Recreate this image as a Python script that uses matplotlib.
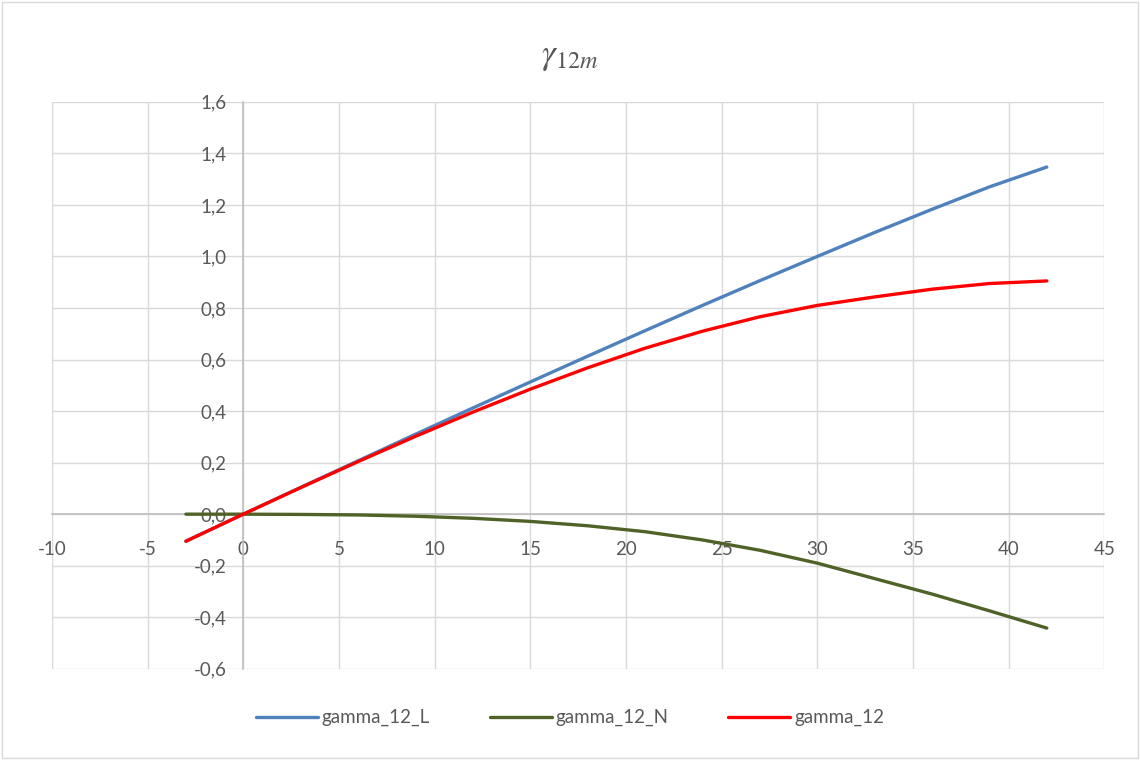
import matplotlib.pyplot as plt
import matplotlib.ticker as mticker
from matplotlib.patches import Rectangle

plt.rcParams['font.family'] = ['Lato', 'DejaVu Sans']
plt.rcParams['axes.unicode_minus'] = False
plt.rcParams['mathtext.fontset'] = 'stix'

# values
x = [-3, 0, 3, 6, 9, 12, 15, 18, 21, 24, 27, 30, 33, 36, 39, 42]
gamma_12_L = [-0.105, 0.0, 0.104, 0.207, 0.31, 0.412, 0.513, 0.613, 0.712,
              0.81, 0.906, 1.0, 1.093, 1.183, 1.27, 1.347]
gamma_12_N = [0.0, 0.0, -0.001, -0.003, -0.008, -0.016, -0.028, -0.045, -0.068,
              -0.1, -0.14, -0.19, -0.25, -0.31, -0.375, -0.442]
gamma_12 = [-0.105, 0.0, 0.103, 0.204, 0.302, 0.396, 0.485, 0.568, 0.644,
            0.71, 0.766, 0.81, 0.843, 0.873, 0.895, 0.905]

fig = plt.figure(figsize=(11.4, 7.6), dpi=100)
ax = fig.add_axes([0.0456, 0.120, 0.923, 0.746])

ax.plot(x, gamma_12_L, color="#4f81bd", lw=2.4, label="gamma_12_L", solid_capstyle="round")
ax.plot(x, gamma_12_N, color="#4f6228", lw=2.4, label="gamma_12_N", solid_capstyle="round")
ax.plot(x, gamma_12, color="#ff0000", lw=2.4, label="gamma_12", solid_capstyle="round")

ax.set_xlim(-10, 45)
ax.set_ylim(-0.6, 1.6)
ax.xaxis.set_major_locator(mticker.MultipleLocator(5))
ax.yaxis.set_major_locator(mticker.MultipleLocator(0.2))
ax.yaxis.set_major_formatter(mticker.FuncFormatter(lambda v, p: ("%.1f" % v).replace(".", ",")))
ax.grid(True, color="#d9d9d9", lw=1)
ax.set_axisbelow(True)

ax.spines['left'].set_position(('data', 0))
ax.spines['bottom'].set_position(('data', 0))
ax.spines['right'].set_visible(False)
ax.spines['top'].set_visible(False)
for s in ('left', 'bottom'):
    ax.spines[s].set_color("#bfbfbf")
    ax.spines[s].set_linewidth(1.2)
    ax.spines[s].set_zorder(1.5)
ax.tick_params(axis='x', length=0, pad=19, labelsize=13.5, labelcolor="#595959")
ax.tick_params(axis='y', length=0, pad=12, labelsize=13.5, labelcolor="#595959")

fig.text(0.5, 0.925, r"$\gamma_{12m}$", ha="center", va="center", fontsize=25, color="#595959")

fig.legend(loc="lower center", bbox_to_anchor=(0.5, 0.022), ncol=3, frameon=False,
           fontsize=13.5, handlelength=3.3, handletextpad=0.2, columnspacing=3.2,
           labelcolor="#595959")

fig.patches.append(Rectangle((0.002, 0.002), 0.996, 0.996, transform=fig.transFigure,
                             fill=False, edgecolor="#d9d9d9", lw=1))

fig.savefig("out.png", dpi=100)
